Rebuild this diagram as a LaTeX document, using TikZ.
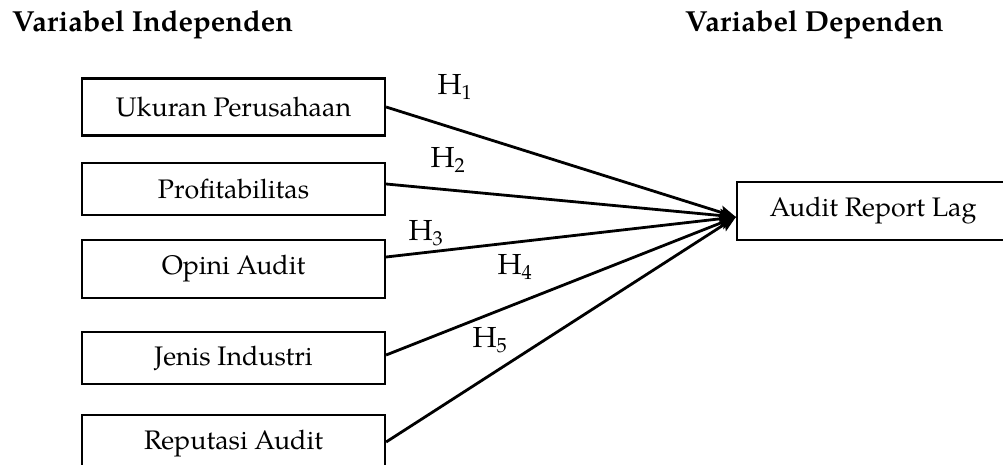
\documentclass[tikz,border=0pt]{standalone}
\usepackage{fontspec}
\setmainfont{TeX Gyre Pagella}
\usetikzlibrary{arrows.meta}
\begin{document}
\begin{tikzpicture}[x=1pt,y=1pt,
  box/.style={draw,line width=2.2pt,minimum width=303pt,inner sep=0pt,font=\fontsize{26.8}{30}\selectfont},
  head/.style={font=\bfseries\fontsize{29}{34}\selectfont,anchor=base west,inner sep=0pt},
  hlab/.style={font=\fontsize{29}{34}\selectfont,inner sep=0pt},
  conn/.style={line width=2.8pt,-{Stealth[length=16pt,width=13pt,inset=3pt]}}]
\useasboundingbox (0,0) rectangle (1003,464);
\node[head] (hi) at (12,432) {Variabel Independen};
\node[head] (hd) at (685,432) {Variabel Dependen};
\node[box,minimum height=57pt] (b1) at (233.5,357) {Ukuran Perusahaan};
\node[box,minimum height=52pt] (b2) at (233.5,275) {Profitabilitas};
\node[box,minimum height=58pt] (b3) at (233.5,195) {Opini Audit};
\node[box,minimum height=52pt] (b4) at (233.5,106) {Jenis Industri};
\node[box,minimum height=57pt] (b5) at (233.5,20.5) {Reputasi Audit};
\node[box,minimum height=58pt,minimum width=276pt] (t) at (875,253) {\hspace*{-4pt}Audit Report Lag};
\coordinate (tip) at ([yshift=-6pt]t.west);
\draw[conn] (b1.east) -- (tip);
\draw[conn] ([yshift=5pt]b2.east) -- (tip);
\draw[conn] ([yshift=12pt]b3.east) -- (tip);
\draw[conn] ([yshift=3pt]b4.east) -- (tip);
\draw[conn] ([yshift=1.5pt]b5.east) -- (tip);
\node[hlab] (h1) at (455,377) {H\textsubscript{1}};
\node[hlab] (h2) at (448,304) {H\textsubscript{2}};
\node[hlab] (h3) at (426,231) {H\textsubscript{3}};
\node[hlab] (h4) at (515,197) {H\textsubscript{4}};
\node[hlab] (h5) at (490,124) {H\textsubscript{5}};
\end{tikzpicture}
\end{document}
